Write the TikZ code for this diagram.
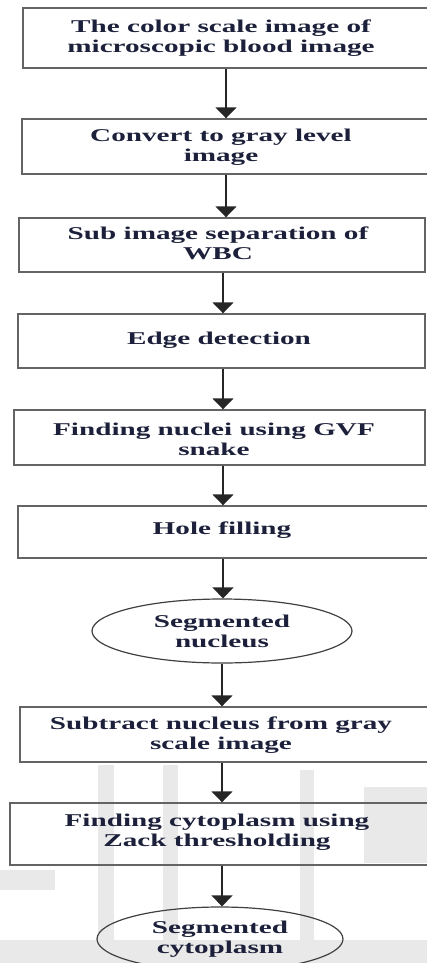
\documentclass[tikz,border=0pt]{standalone}
\usepackage{fontspec}
\setmainfont[FakeStretch=1.62]{Liberation Serif}
\usetikzlibrary{arrows.meta,shapes.geometric}
\definecolor{txtc}{RGB}{28,32,58}
\definecolor{boxc}{RGB}{100,100,100}
\definecolor{wm}{RGB}{233,233,233}
\begin{document}
\begin{tikzpicture}[x=1pt,y=-1pt,
  box/.style={draw=boxc, line width=1.4pt, rectangle, inner sep=0pt},
  oval/.style={draw=black!75, line width=1.2pt, ellipse, inner sep=0pt, text=txtc, align=center, font=\fontsize{18}{20}\selectfont\bfseries},
  lbl/.style={text=txtc, align=center, font=\fontsize{18}{20}\selectfont\bfseries, inner sep=0pt},
  arr/.style={draw=black!85, line width=1.6pt, -{Triangle[width=21pt,length=11pt]}},
  wmark/.style={fill=wm, draw=none}]
\useasboundingbox (0,0) rectangle (427,963);
\clip (0,0) rectangle (427,963);
% faint watermark in the background
\fill[wmark] (98,765) rectangle (114,963);
\fill[wmark] (163,765) rectangle (178,963);
\fill[wmark] (300,770) rectangle (314,963);
\fill[wmark] (364,787) rectangle (427,863);
\fill[wmark] (0,870) rectangle (55,890);
\fill[wmark] (0,940) rectangle (427,963);
% columns for the connectors
\coordinate (c1) at (226,0);
\coordinate (c2) at (223,0);
\coordinate (c3) at (222,0);
% boxes
\node[box, minimum width=417, minimum height=60] (b1) at (231.5,38) {};
\node[box, minimum width=418, minimum height=55] (b2) at (231,146.5) {};
\node[box, minimum width=406, minimum height=54] (b3) at (222,245) {};
\node[box, minimum width=407, minimum height=54] (b4) at (221.5,341) {};
\node[box, minimum width=411, minimum height=55] (b5) at (219.5,437.5) {};
\node[box, minimum width=422, minimum height=52] (b6) at (229,532) {};
\node[oval, minimum width=260, minimum height=64] (e1) at (222,631) {Segmented\\nucleus};
\node[box, minimum width=420, minimum height=55] (b8) at (230,734.5) {};
\node[box, minimum width=430, minimum height=62] (b9) at (225,834) {};
\node[oval, minimum width=246, minimum height=64] (e2) at (220,939) {Segmented\\cytoplasm};
% labels
\node[lbl] (t1) at (221,38) {The color scale image of\\microscopic blood image};
\node[lbl] (t2) at (221,147) {Convert to gray level\\image};
\node[lbl] (t3) at (218,243) {Sub image separation of\\WBC};
\node[lbl] (t4) at (219,340) {Edge detection};
\node[lbl] (t5) at (214,439) {Finding nuclei using GVF\\snake};
\node[lbl] (t6) at (222,530) {Hole filling};
\node[lbl] (t8) at (221,735.5) {Subtract nucleus from gray\\scale image};
\node[lbl] (t9) at (217,832) {Finding cytoplasm using\\Zack thresholding};
% connectors
\draw[arr] (b1.south -| c1) -- (b2.north -| c1);
\draw[arr] (b2.south -| c1) -- (b3.north -| c1);
\draw[arr] (b3.south -| c2) -- (b4.north -| c2);
\draw[arr] (b4.south -| c2) -- (b5.north -| c2);
\draw[arr] (b5.south -| c2) -- (b6.north -| c2);
\draw[arr] (b6.south -| c2) -- (e1.north -| c2);
\draw[arr] (e1.south -| c3) -- (b8.north -| c3);
\draw[arr] (b8.south -| c3) -- (b9.north -| c3);
\draw[arr] (b9.south -| c3) -- (e2.north -| c3);
\end{tikzpicture}
\end{document}
